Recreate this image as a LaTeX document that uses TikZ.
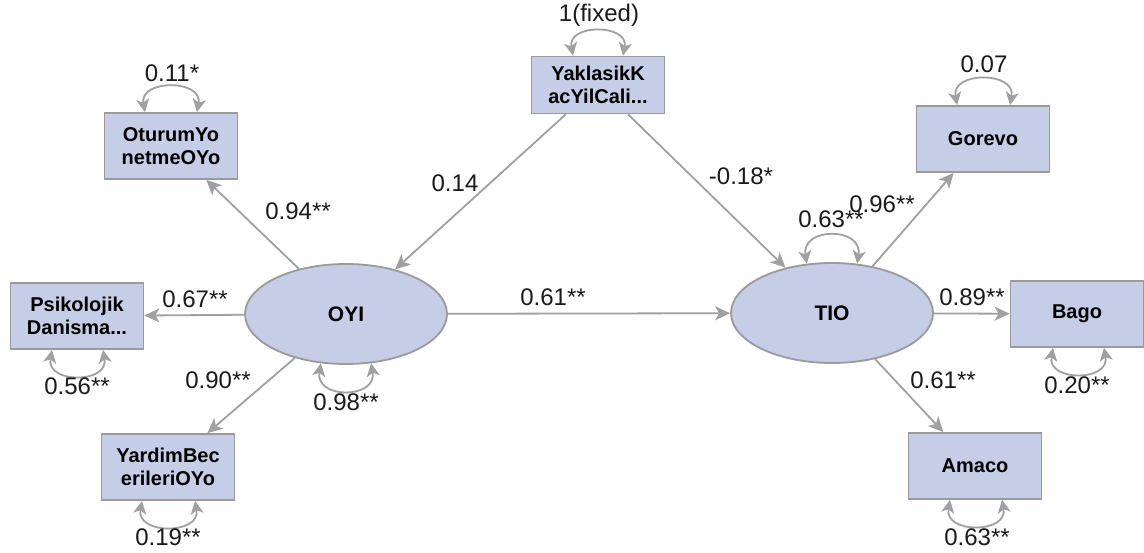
\documentclass[tikz,border=0pt]{standalone}
\usepackage{fontspec}
\setmainfont{Liberation Sans}
\usetikzlibrary{arrows.meta,shapes.geometric}
\definecolor{nodefill}{HTML}{C5CEE6}
\definecolor{nodeline}{HTML}{9A9A9A}
\definecolor{edgecol}{HTML}{A0A0A0}
\definecolor{labcol}{HTML}{1A1A1A}
\begin{document}
\begin{tikzpicture}[x=1pt,y=-1pt,
  obs/.style={draw=nodeline, line width=1.8pt, fill=nodefill, minimum width=133pt, minimum height=66pt, inner sep=0pt, align=center, font=\bfseries\fontsize{20}{23}\selectfont},
  lat/.style={ellipse, draw=nodeline, line width=1.8pt, fill=nodefill, minimum width=202pt, minimum height=100pt, inner sep=0pt, font=\bfseries\fontsize{21}{24}\selectfont},
  reg/.style={draw=edgecol, line width=1.8pt, -{Stealth[length=15pt,width=14pt,inset=4pt]}},
  varc/.style={draw=edgecol, line width=1.8pt, {Stealth[length=13pt,width=13pt,inset=3.5pt]}-{Stealth[length=13pt,width=13pt,inset=3.5pt]}},
  lab/.style={font=\fontsize{24}{26}\selectfont, text=labcol, inner sep=0pt}]
\useasboundingbox (0,0) rectangle (1144,553);
\fill[white] (0,0) rectangle (1144,553);

\node[obs, minimum height=57pt] (ya) at (598,85) {YaklasikK\\acYilCali...};
\node[obs] (ot) at (171,146) {OturumYo\\netmeOYo};
\node[obs] (ps) at (77,316) {Psikolojik\\Danisma...};
\node[obs] (yb) at (168,467) {YardimBec\\erileriOYo};
\node[obs] (go) at (983,139) {Gorevo};
\node[obs] (ba) at (1077,314) {Bago};
\node[obs] (am) at (975,466) {Amaco};
\node[lat] (oyi) at (346,314) {OYI};
\node[lat] (tio) at (832,313) {TIO};

\draw[reg] (ya) -- (oyi);
\draw[reg] (ya) -- (tio);
\draw[reg] (oyi) -- (ot);
\draw[reg] (oyi) -- (ps);
\draw[reg] (oyi) -- (yb);
\draw[reg] (oyi) -- (tio);
\draw[reg] (tio) -- (go);
\draw[reg] (tio) -- (ba);
\draw[reg] (tio) -- (am);

% variance arcs
\draw[varc] ([xshift=-25pt]ya.north) .. controls +(-6,-32) and +(6,-32) .. ([xshift=25pt]ya.north);
\draw[varc] ([xshift=-26pt]ot.north) .. controls +(-6,-33) and +(6,-33) .. ([xshift=26pt]ot.north);
\draw[varc] ([xshift=-26pt]go.north) .. controls +(-6,-34) and +(6,-34) .. ([xshift=27pt]go.north);
\draw[varc] ([xshift=-25pt]ps.south) .. controls +(-6,34) and +(6,34) .. ([xshift=26pt]ps.south);
\draw[varc] ([xshift=-26pt]yb.south) .. controls +(-6,34) and +(6,34) .. ([xshift=27pt]yb.south);
\draw[varc] ([xshift=-24pt]ba.south) .. controls +(-6,34) and +(6,34) .. ([xshift=27pt]ba.south);
\draw[varc] ([xshift=-25pt]am.south) .. controls +(-6,34) and +(6,34) .. ([xshift=27pt]am.south);
\draw[varc] (oyi.-117) .. controls +(-6,36) and +(6,36) .. (oyi.-63);
\draw[varc] (tio.117) .. controls +(-6,-37) and +(6,-37) .. (tio.63);

% path labels
\node[lab] at (455,183) {0.14};
\node[lab] at (741,176) {-0.18*};
\node[lab] at (298,211) {0.94**};
\node[lab] at (195,299) {0.67**};
\node[lab] at (218,380) {0.90**};
\node[lab] at (553,297) {0.61**};
\node[lab] at (882,204) {0.96**};
\node[lab] at (972,297) {0.89**};
\node[lab] at (943,380) {0.61**};

% variance labels
\node[lab] at (599,15) {1(fixed)};
\node[lab] at (172,73) {0.11*};
\node[lab] at (77,386) {0.56**};
\node[lab] at (168,537) {0.19**};
\node[lab] at (984,64) {0.07};
\node[lab] at (1077,385) {0.20**};
\node[lab] at (977,537) {0.63**};
\node[lab] at (346,402) {0.98**};
\node[lab] at (831,219) {0.63**};
\end{tikzpicture}
\end{document}
